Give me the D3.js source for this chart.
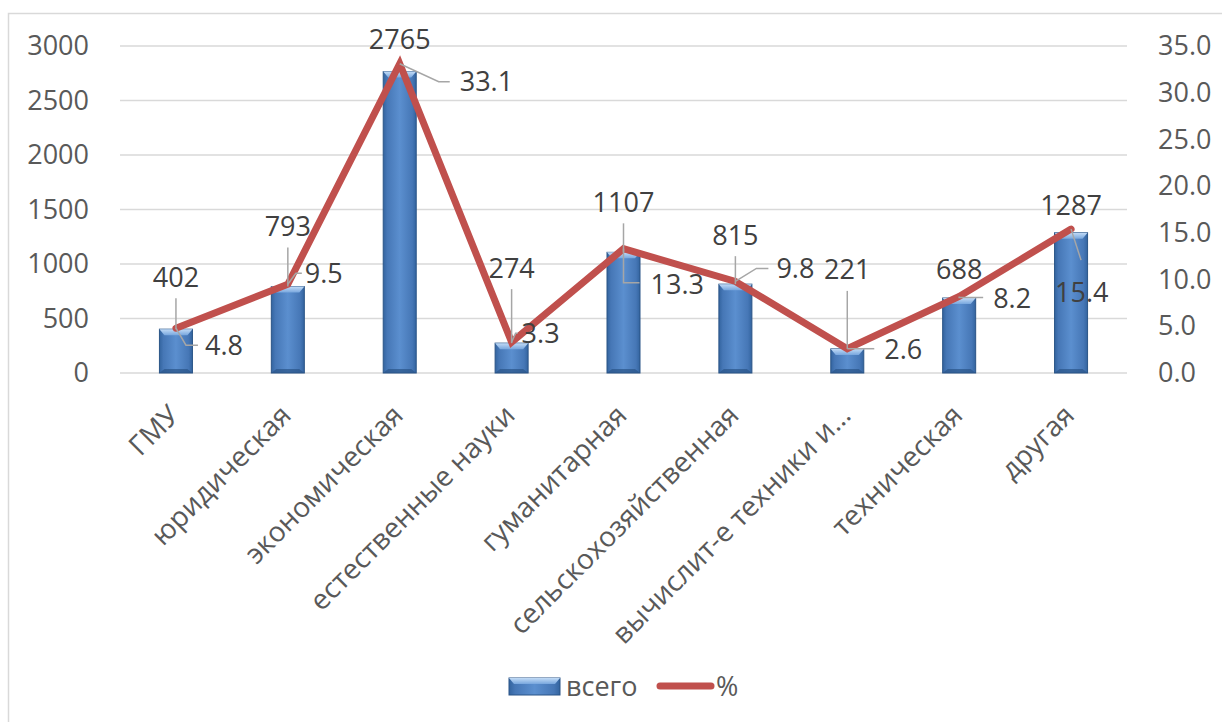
<!DOCTYPE html>
<html>
<head>
<meta charset="utf-8">
<script src="https://cdn.jsdelivr.net/npm/d3@7"></script>
<style>
  html, body { margin: 0; padding: 0; background: #fff; }
  svg { display: block; }
  text { font-family: "Open Sans", "Noto Sans", sans-serif; }
</style>
</head>
<body>
<svg id="chart" width="1222" height="722"></svg>
<script>
// Specialisation categories
const categories = ["ГМУ", "юридическая", "экономическая", "естественные науки", "гуманитарная",
  "сельскохозяйственная", "вычислит-е техники и…", "техническая", "другая"];
// Series: total count (bars, left axis) and share in percent (line, right axis)
const totals = [402, 793, 2765, 274, 1107, 815, 221, 688, 1287];
const percents = [4.8, 9.5, 33.1, 3.3, 13.3, 9.8, 2.6, 8.2, 15.4];
// Axis ticks
const leftTicks = [0, 500, 1000, 1500, 2000, 2500, 3000];
const rightTicks = [0, 5, 10, 15, 20, 25, 30, 35];
const seriesNames = ["всего", "%"];

// Label placement (pixel offsets from the mark's anchor point)
const totalLabelOffset = [-52, -60, -32, -75, -50, -49, -79, -28, -27];
const pctLabelPlace = [
  // [label dx, label dy, leader elbow dx, elbow dy, leader end dx]
  [29, 17, 10, 17, 22],
  [17, -11, 8, -11, 14],
  [60, 18, 39, 18, 50],
  [10, -9, 4, -9, 6],
  [27, 36, 0, 34, 16],
  [41, -13, 21, -13, 33],
  [37, 1, 0, 0, 27],
  [34, 2, 0, 1, 24],
  [-16, 63, 10, 31, 10]
];

const svg = d3.select("#chart");
const plot = { left: 120, right: 1127, top: 46, bottom: 373 };

const x = d3.scaleBand().domain(categories).range([plot.left, plot.right]).padding(0);
const yL = d3.scaleLinear().domain([0, 3000]).range([plot.bottom, plot.top]);
const yR = d3.scaleLinear().domain([0, 35]).range([plot.bottom, plot.top]);
const barW = x.bandwidth() * 0.295;
const cx = d => x(d) + x.bandwidth() / 2;

// Gradients for the bevelled bars
const defs = svg.append("defs");
const gBody = defs.append("linearGradient").attr("id", "barBody").attr("x1", 0).attr("x2", 1).attr("y1", 0).attr("y2", 0);
[[0, "#33649f"], [0.12, "#4677b6"], [0.5, "#5b8fcf"], [0.88, "#4677b6"], [1, "#33649f"]]
  .forEach(([o, c]) => gBody.append("stop").attr("offset", o).attr("stop-color", c));
const gTop = defs.append("linearGradient").attr("id", "barTop").attr("x1", 0).attr("x2", 0).attr("y1", 0).attr("y2", 1);
[[0, "#c2dbf6"], [1, "#78a7de"]].forEach(([o, c]) => gTop.append("stop").attr("offset", o).attr("stop-color", c));

// Outer frame
svg.append("rect").attr("x", 8.5).attr("y", 13.5).attr("width", 1240).attr("height", 740)
  .attr("fill", "none").attr("stroke", "#d9d9d9").attr("stroke-width", 1.5);

// Gridlines
svg.append("g").selectAll("line").data(leftTicks).join("line")
  .attr("x1", plot.left).attr("x2", plot.right)
  .attr("y1", d => yL(d)).attr("y2", d => yL(d))
  .attr("stroke", "#d9d9d9").attr("stroke-width", 1.5);

// Left axis
const axL = svg.append("g").attr("transform", `translate(${plot.left},0)`)
  .call(d3.axisLeft(yL).tickValues(leftTicks).tickSize(0).tickPadding(31).tickFormat(d3.format("d")));
axL.select(".domain").remove();
axL.selectAll("text").attr("font-size", 27).attr("fill", "#595959").attr("font-family", "Open Sans");

// Right axis
const axR = svg.append("g").attr("transform", `translate(${plot.right},0)`)
  .call(d3.axisRight(yR).tickValues(rightTicks).tickSize(0).tickPadding(31).tickFormat(d3.format(".1f")));
axR.select(".domain").remove();
axR.selectAll("text").attr("font-size", 27).attr("fill", "#595959").attr("font-family", "Open Sans");

// Category labels, rotated
const axB = svg.append("g").attr("transform", `translate(0,${plot.bottom})`)
  .call(d3.axisBottom(x).tickSize(0).tickPadding(0));
axB.select(".domain").remove();
axB.selectAll("text")
  .attr("font-size", 28).attr("fill", "#595959").attr("font-family", "Open Sans")
  .attr("text-anchor", "end")
  .attr("dy", 0).attr("y", 0)
  .attr("transform", "translate(5,44) rotate(-45)");

// Bars
const bars = svg.append("g").selectAll("g").data(categories).join("g");
bars.each(function (c, i) {
  const g = d3.select(this);
  const x0 = cx(c) - barW / 2, top = yL(totals[i]), h = plot.bottom - top;
  g.append("rect").attr("x", x0).attr("y", top).attr("width", barW).attr("height", h)
    .attr("fill", "url(#barBody)").attr("stroke", "#2b5587").attr("stroke-width", 1);
  const b = 5;
  g.append("path")
    .attr("d", `M${x0},${top}L${x0 + barW},${top}L${x0 + barW - b},${top + b + 1}L${x0 + b},${top + b + 1}Z`)
    .attr("fill", "url(#barTop)");
  g.append("path")
    .attr("d", `M${x0},${plot.bottom}L${x0 + barW},${plot.bottom}L${x0 + barW - b},${plot.bottom - 4}L${x0 + b},${plot.bottom - 4}Z`)
    .attr("fill", "#2a5488").attr("opacity", 0.7);
});

// Percent line
const line = d3.line().x((d, i) => cx(categories[i])).y(d => yR(d));
svg.append("path").datum(percents).attr("d", line)
  .attr("fill", "none").attr("stroke", "#c0504d").attr("stroke-width", 7)
  .attr("stroke-linejoin", "miter").attr("stroke-linecap", "round");

// Leader lines and data labels
const leaders = svg.append("g").attr("stroke", "#a6a6a6").attr("stroke-width", 1.5).attr("fill", "none");
const labels = svg.append("g").attr("font-size", 27).attr("fill", "#404040");

categories.forEach((c, i) => {
  const px = cx(c);
  // total label above bar
  const by = yL(totals[i]);
  const ly = by + totalLabelOffset[i];
  labels.append("text").attr("x", px).attr("y", ly).attr("dy", "0.35em")
    .attr("text-anchor", "middle").text(totals[i]);
  if (by - (ly + 21) > 14) {
    leaders.append("line").attr("x1", px).attr("x2", px).attr("y1", ly + 21).attr("y2", by);
  }
  // percent label
  const py = yR(percents[i]);
  const [dx, dy, ex, ey, hx] = pctLabelPlace[i];
  labels.append("text").attr("x", px + dx).attr("y", py + dy).attr("dy", "0.35em")
    .attr("text-anchor", "start").text(d3.format(".1f")(percents[i]));
  leaders.append("polyline")
    .attr("points", `${px},${py} ${px + ex},${py + ey} ${px + hx},${py + ey}`);
});
leaders.raise();
labels.raise();

// Legend
const lg = svg.append("g");
lg.append("rect").attr("x", 509).attr("y", 678).attr("width", 51).attr("height", 17)
  .attr("fill", "url(#barBody)").attr("stroke", "#2b5587");
lg.append("path").attr("d", "M509,678L560,678L555,684L514,684Z").attr("fill", "url(#barTop)");
lg.append("text").attr("x", 566).attr("y", 687).attr("dy", "0.35em").attr("font-size", 27)
  .attr("fill", "#595959").text(seriesNames[0]);
lg.append("line").attr("x1", 660).attr("x2", 711).attr("y1", 686).attr("y2", 686)
  .attr("stroke", "#c0504d").attr("stroke-width", 7).attr("stroke-linecap", "round");
lg.append("text").attr("x", 716).attr("y", 687).attr("dy", "0.35em").attr("font-size", 27)
  .attr("fill", "#595959").text(seriesNames[1]);
</script>
</body>
</html>
